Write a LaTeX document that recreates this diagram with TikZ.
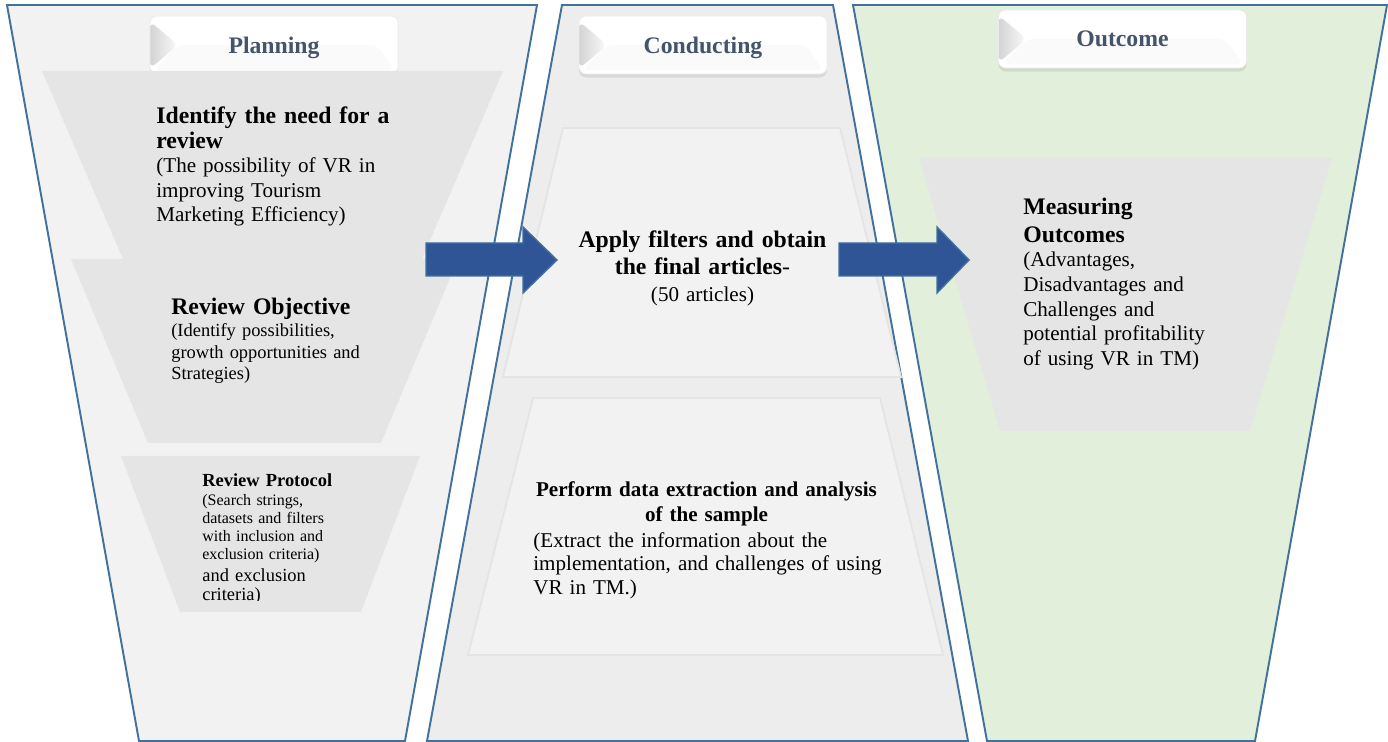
\documentclass[tikz,border=0pt]{standalone}
\usepackage{fontspec}
\setmainfont{Liberation Serif}
\usetikzlibrary{shadows}
\definecolor{laneblue}{HTML}{41719C}
\definecolor{planfill}{HTML}{F2F2F2}
\definecolor{condfill}{HTML}{EDEDED}
\definecolor{outfill}{HTML}{E2EFDA}
\definecolor{stagefill}{HTML}{E5E5E5}
\definecolor{sievefill}{HTML}{F2F2F2}
\definecolor{sieveline}{HTML}{E4E4E4}
\definecolor{arrowblue}{HTML}{2F5597}
\definecolor{tabslate}{HTML}{44546A}
\tikzset{
    lane/.style={draw=laneblue, line width=1.1pt},
    sievestage/.style={fill=sievefill, draw=sieveline, line width=1pt},
    blockarrow/.style={fill=arrowblue, draw=laneblue, line width=0.8pt},
    tabbox/.style={
        fill=white, draw=black!8, rounded corners=4pt,
        minimum width=4.96cm, minimum height=1.16cm,
        text depth=0pt, text=tabslate,
        font=\fontsize{13.5}{14}\selectfont\bfseries,
        drop shadow={shadow xshift=0pt, shadow yshift=-2pt, opacity=0.18},
        path picture={
            \fill[black!2] ([xshift=16pt]path picture bounding box.west) -- ([xshift=-12pt]path picture bounding box.east) -- ([xshift=-2pt,yshift=2pt]path picture bounding box.south east) -- ([xshift=2pt,yshift=2pt]path picture bounding box.south west) -- cycle;
            \fill[left color=black!17, right color=black!2] ([yshift=-3pt]path picture bounding box.north west) -- ([xshift=16pt]path picture bounding box.west) -- ([yshift=3pt]path picture bounding box.south west) -- cycle;
        }
    },
    steptitle/.style={font=\fontsize{13.5}{13.8}\selectfont\bfseries, align=left, text width=7.5cm, inner sep=0pt, anchor=base west},
    stepbody/.style={font=\fontsize{12}{13.9}\selectfont, align=left, text width=7.5cm, inner sep=0pt, anchor=base west}
}
\newcommand{\phasetab}[3]{
    \node[tabbox] (#1) at (#2) {#3};
}
\newcommand{\flowarrow}[3]{
    \draw[blockarrow] (#1,243) -- (#2,243) -- (#2,227) -- (#3,260) -- (#2,293) -- (#2,276) -- (#1,276) -- cycle;
}

\begin{document}
\begin{tikzpicture}[x=0.02cm, y=-0.02cm]
    \useasboundingbox (0,0) rectangle (1388,742);

    % the three phases
    \draw[lane, fill=planfill] (7,5) -- (537,5) -- (405,741) -- (139,741) -- cycle;
    \draw[lane, fill=condfill] (562,5) -- (833,5) -- (968,741) -- (427,741) -- cycle;
    \draw[lane, fill=outfill] (853,5) -- (1387,5) -- (1255,741) -- (987,741) -- cycle;

    \phasetab{plantab}{274,45}{Planning}
    \phasetab{condtab}{703,45}{Conducting}
    \phasetab{outtab}{1122.5,39}{Outcome}

    % planning
    \fill[stagefill] (42,71) -- (503,71) -- (422,259) -- (123,259) -- cycle;
    \fill[stagefill] (71,259) -- (458,259) -- (381,443) -- (148,443) -- cycle;
    \fill[stagefill] (121,456) -- (420,456) -- (361,612) -- (180,612) -- cycle;

    \node[steptitle] (needT) at (156,124) {Identify the need for a\\review};
    \node[stepbody] (needB) at (156,173) {(The possibility of VR in\\improving Tourism\\Marketing Efficiency)};

    \node[steptitle] (objT) at (171,315) {Review Objective};
    \node[stepbody, font=\fontsize{10.5}{12.2}\selectfont] (objB) at (171,337) {(Identify possibilities,\\growth opportunities and\\Strategies)};

    \node[steptitle, font=\fontsize{10.5}{11}\selectfont\bfseries] (protT) at (202,486) {Review Protocol};
    \node[stepbody, font=\fontsize{9.1}{10.4}\selectfont] (protB) at (202,505) {(Search strings,\\datasets and filters\\with inclusion and\\exclusion criteria)};
    \begin{scope}
        \clip (190,560) rectangle (420,600.5);
        \node[stepbody, font=\fontsize{10.5}{11.3}\selectfont] (protC) at (202,581) {and exclusion\\criteria)};
    \end{scope}

    % conducting
    \draw[sievestage] (563,128) -- (840,128) -- (901,377) -- (503,377) -- cycle;
    \draw[sievestage] (533,398) -- (880,398) -- (943,655) -- (468,655) -- cycle;

    \node[steptitle, align=center, anchor=base, font=\fontsize{13.5}{15.1}\selectfont\bfseries] (filtT) at (702.5,248) {Apply filters and obtain\\the final articles{\mdseries-}};
    \node[stepbody, align=center, anchor=base] (filtB) at (702.5,302) {(50 articles)};

    \node[steptitle, align=center, anchor=base, font=\fontsize{12}{14.2}\selectfont\bfseries] (dataT) at (706.5,497) {Perform data extraction and analysis\\of the sample};
    \node[stepbody, font=\fontsize{12}{13.6}\selectfont] (dataB) at (533,547) {(Extract the information about the\\implementation, and challenges of using\\VR in TM.)};

    % outcome
    \fill[stagefill] (919,158) -- (1332,158) -- (1250,431) -- (1000,431) -- cycle;

    \node[steptitle, font=\fontsize{13.5}{15.5}\selectfont\bfseries] (measT) at (1023,215) {Measuring\\Outcomes};
    \node[stepbody, font=\fontsize{12}{14}\selectfont] (measB) at (1023,267) {(Advantages,\\Disadvantages and\\Challenges and\\potential profitability\\of using VR in TM)};

    \flowarrow{426}{523}{557}
    \flowarrow{839}{937}{969}
\end{tikzpicture}
\end{document}
